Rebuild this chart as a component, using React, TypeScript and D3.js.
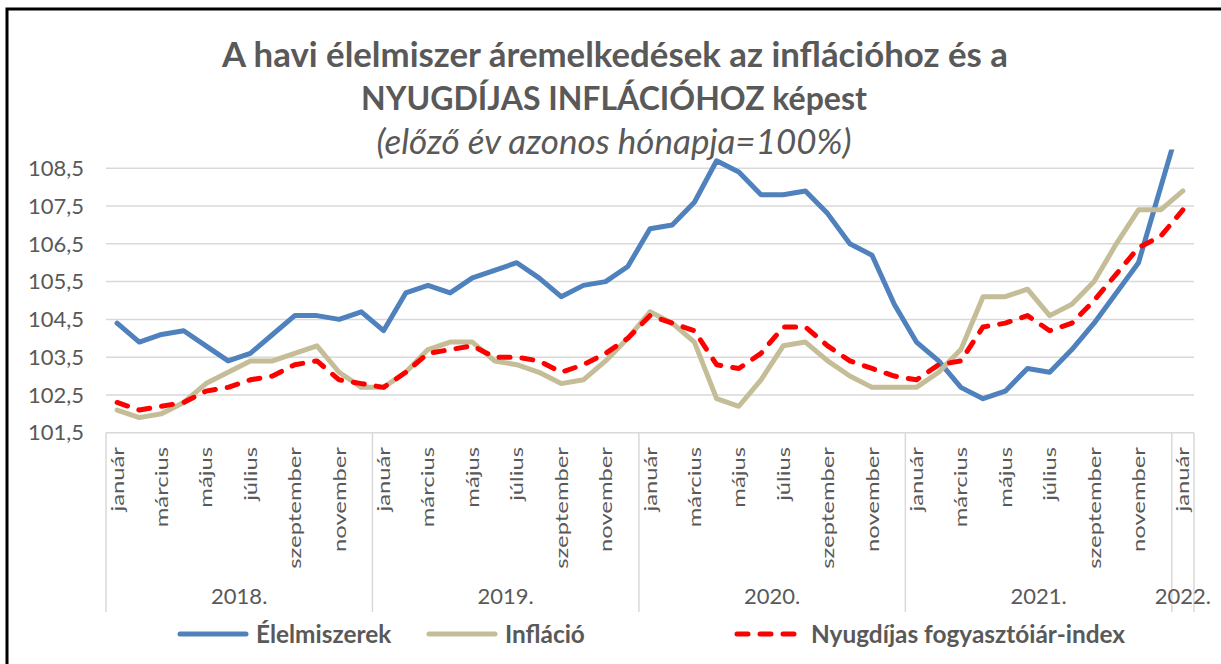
import React from 'react'
import * as d3 from 'd3'

// havi adatok, 2018. január – 2022. január (előző év azonos hónapja = 100%)
const honapok = ['január', 'február', 'március', 'április', 'május', 'június', 'július', 'augusztus', 'szeptember', 'október', 'november', 'december']
const evek = ['2018.', '2019.', '2020.', '2021.', '2022.']
const yTicks = [101.5, 102.5, 103.5, 104.5, 105.5, 106.5, 107.5, 108.5]

const elelmiszerek = [
  104.4, 103.9, 104.1, 104.2, 103.8, 103.4, 103.6, 104.1, 104.6, 104.6, 104.5, 104.7,
  104.2, 105.2, 105.4, 105.2, 105.6, 105.8, 106.0, 105.6, 105.1, 105.4, 105.5, 105.9,
  106.9, 107.0, 107.6, 108.7, 108.4, 107.8, 107.8, 107.9, 107.3, 106.5, 106.2, 104.9,
  103.9, 103.4, 102.7, 102.4, 102.6, 103.2, 103.1, 103.7, 104.4, 105.2, 106.0, 108.0,
  110.0,
]
const inflacio = [
  102.1, 101.9, 102.0, 102.3, 102.8, 103.1, 103.4, 103.4, 103.6, 103.8, 103.1, 102.7,
  102.7, 103.1, 103.7, 103.9, 103.9, 103.4, 103.3, 103.1, 102.8, 102.9, 103.4, 104.0,
  104.7, 104.4, 103.9, 102.4, 102.2, 102.9, 103.8, 103.9, 103.4, 103.0, 102.7, 102.7,
  102.7, 103.1, 103.7, 105.1, 105.1, 105.3, 104.6, 104.9, 105.5, 106.5, 107.4, 107.4,
  107.9,
]
const nyugdijas = [
  102.3, 102.1, 102.2, 102.3, 102.6, 102.7, 102.9, 103.0, 103.3, 103.4, 102.9, 102.8,
  102.7, 103.1, 103.6, 103.7, 103.8, 103.5, 103.5, 103.4, 103.1, 103.3, 103.6, 104.0,
  104.6, 104.4, 104.2, 103.3, 103.2, 103.6, 104.3, 104.3, 103.8, 103.4, 103.2, 103.0,
  102.9, 103.3, 103.4, 104.3, 104.4, 104.6, 104.2, 104.4, 105.0, 105.7, 106.4, 106.7,
  107.4,
]

const W = 1221
const H = 664
const FONT = 'Lato, "Open Sans", sans-serif'
const TEXT = '#595959'
const GRID = '#D9D9D9'

export default function App() {
  const idx = d3.range(elelmiszerek.length)
  const x = d3.scaleBand<number>().domain(idx).range([106, 1194]).paddingInner(0).paddingOuter(0)
  const y = d3.scaleLinear().domain([101.5, 109]).range([432.7, 149.4])
  const cx = (i: number) => (x(i) ?? 0) + x.bandwidth() / 2

  const line = d3.line<number>().x((_, i) => cx(i)).y((d) => y(d))

  const series = [
    { name: 'Élelmiszerek', data: elelmiszerek, color: '#4F81BD', dash: undefined as string | undefined, lx: 180, lw: 66 },
    { name: 'Infláció', data: inflacio, color: '#C4BD97', dash: undefined, lx: 429, lw: 66 },
    { name: 'Nyugdíjas fogyasztóiár-index', data: nyugdijas, color: '#FF0000', dash: '11 12', lx: 737, lw: 57 },
  ]

  // évhatárok (január előtt) + a tengely vége
  const dividers = [0, 12, 24, 36, 48].map((i) => x(i) ?? 0).concat([x.range()[1]])
  const axisY = y(101.5)

  return (
    <svg width={W} height={H} style={{ position: 'absolute', left: 0, top: 0, background: '#fff' }} fontFamily={FONT}>
      <defs>
        <clipPath id="plot">
          <rect x={x.range()[0]} y={y(109)} width={x.range()[1] - x.range()[0] + 20} height={axisY - y(109)} />
        </clipPath>
      </defs>
      <rect x={0} y={0} width={W} height={H} fill="#fff" />
      <rect x={7} y={9} width={W + 20} height={H + 20} fill="none" stroke="#000" strokeWidth={3} />

      {/* cím */}
      <g fill={TEXT} textAnchor="middle">
        <text x={615} y={67} fontSize={34.8} fontWeight="bold">A havi élelmiszer áremelkedések az inflációhoz és a</text>
        <text x={614} y={110} fontSize={32} fontWeight="bold">NYUGDÍJAS INFLÁCIÓHOZ képest</text>
        <text x={614} y={154} fontSize={35} fontStyle="italic">(előző év azonos hónapja=100%)</text>
      </g>

      {/* rácsvonalak és y feliratok */}
      {yTicks.map((t) => (
        <g key={t}>
          <line x1={x.range()[0]} x2={x.range()[1]} y1={y(t)} y2={y(t)} stroke={GRID} strokeWidth={1.5} />
          <text x={84} y={y(t)} dy="0.35em" textAnchor="end" fontSize={22} fill={TEXT}>
            {t.toFixed(1).replace('.', ',')}
          </text>
        </g>
      ))}

      {/* kategória tengely */}
      {dividers.map((d, i) => (
        <line key={i} x1={d} x2={d} y1={axisY} y2={612} stroke={GRID} strokeWidth={1.5} />
      ))}
      {idx.filter((i) => i % 2 === 0).map((i) => (
        <text key={i} transform={`translate(${cx(i) + 6.5},447) rotate(-90) scale(1.4,1)`} textAnchor="end" fontSize={17} fill={TEXT}>
          {honapok[i % 12]}
        </text>
      ))}
      {evek.map((e, k) => {
        const a = dividers[k]
        const b = dividers[k + 1]
        return (
          <text key={e} x={(a + b) / 2} y={604} textAnchor="middle" fontSize={22} fill={TEXT}>{e}</text>
        )
      })}

      {/* vonalak */}
      <g clipPath="url(#plot)">
        {series.map((s) => (
          <path key={s.name} d={line(s.data) ?? ''} fill="none" stroke={s.color} strokeWidth={5}
            strokeDasharray={s.dash} strokeLinejoin="round" strokeLinecap="round" />
        ))}
      </g>

      {/* jelmagyarázat */}
      {series.map((s) => (
        <g key={s.name}>
          <line x1={s.lx} x2={s.lx + s.lw} y1={634} y2={634} stroke={s.color} strokeWidth={5}
            strokeDasharray={s.dash} strokeLinecap="round" />
          <text x={s.lx + (s.dash ? 74 : 76)} y={634} dy="0.35em" fontSize={24.4} fontWeight="bold" fill={TEXT}>{s.name}</text>
        </g>
      ))}
    </svg>
  )
}
